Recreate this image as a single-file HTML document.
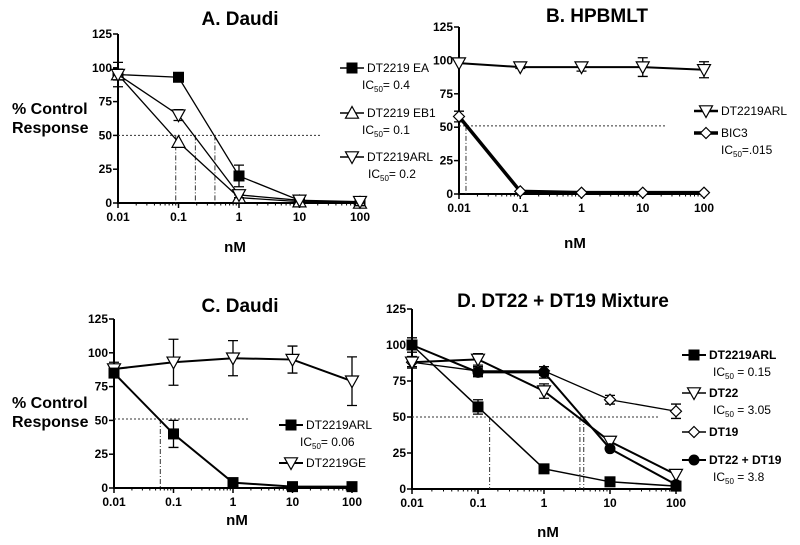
<!DOCTYPE html>
<html><head><meta charset="utf-8"><style>
body{margin:0;background:#fff;}
svg{display:block;font-family:"Liberation Sans",Arial,sans-serif;}
</style></head><body>
<svg id="fig" width="800" height="545" viewBox="0 0 800 545"></svg>
<script>
// ---- data ----
const doses = [0.01, 0.1, 1, 10, 100];
const xTickLabels = ["0.01", "0.1", "1", "10", "100"];
const yTicks = [0, 25, 50, 75, 100, 125];
// Panel A
const aEA = [95, 93, 20, 2, 0];
const aEAerr = [3, 0, 8, 1, 0];
const aEB1 = [95, 45, 4, 1, 0];
const aEB1err = [4, 0, 2, 0, 0];
const aARL = [95, 65, 6, 2, 1];
const aARLerr = [9, 4, 2, 1, 3];
const aIC = [0.4, 0.09, 0.19];
// Panel B
const bARL = [98, 95, 95, 95, 93];
const bARLerr = [0, 1, 3, 7, 6];
const bBIC3 = [58, 2, 1, 1, 1];
const bBIC3err = [4, 0, 0, 0, 0];
const bIC = [0.013];
// Panel C
const cARL = [85, 40, 4, 1, 1];
const cARLerr = [3, 10, 2, 0, 0];
const cGE = [88, 93, 96, 95, 79];
const cGEerr = [5, 17, 13, 10, 18];
const cIC = [0.06];
// Panel D
const dARL = [100, 57, 14, 5, 2];
const dARLerr = [3, 5, 0, 0, 0];
const dDT22 = [88, 90, 68, 33, 10];
const dDT22err = [3, 4, 5, 0, 0];
const dDT19 = [88, 82, 82, 62, 54];
const dDT19err = [4, 3, 3, 3, 5];
const dMix = [100, 81, 81, 28, 3];
const dMixerr = [5, 3, 4, 0, 0];
const dIC = [0.15, 3.5, 4.0];

const NS = "http://www.w3.org/2000/svg";
const svg = document.getElementById("fig");
function el(tag, attrs, parent, text) {
  const e = document.createElementNS(NS, tag);
  for (const k in attrs) e.setAttribute(k, attrs[k]);
  if (text !== undefined) e.textContent = text;
  (parent || svg).appendChild(e);
  return e;
}
function marker(g, shape, x, y) {
  const s = 6.5;
  let m;
  if (shape === "square") m = el("rect", {x: x - 5.5, y: y - 5.5, width: 11, height: 11, fill: "#000"}, g);
  else if (shape === "circle") m = el("circle", {cx: x, cy: y, r: 5.5, fill: "#000"}, g);
  else if (shape === "up") m = el("polygon", {points: `${x},${y - s} ${x - s},${y + s * 0.8} ${x + s},${y + s * 0.8}`, fill: "#fff", stroke: "#000", "stroke-width": 1.2}, g);
  else if (shape === "down") m = el("polygon", {points: `${x},${y + s} ${x - s},${y - s * 0.8} ${x + s},${y - s * 0.8}`, fill: "#fff", stroke: "#000", "stroke-width": 1.2}, g);
  else if (shape === "diamond") m = el("polygon", {points: `${x},${y - 5.5} ${x + 5.5},${y} ${x},${y + 5.5} ${x - 5.5},${y}`, fill: "#fff", stroke: "#000", "stroke-width": 1.2}, g);
  
  
}

function panel(cfg) {
  const g = el("g", {});
  
  
  const X = v => cfg.x0 + (Math.log10(v) + 2) * cfg.dec;
  const Y = v => cfg.y0 - v * cfg.ppu;
  const t = el("text", {x: cfg.tx, y: cfg.ty, "font-size": 19, "font-weight": "bold", "text-anchor": "middle"}, g, cfg.title);
  
  
  const xEnd = X(100);
  const ax = el("path", {d: `M${cfg.x0},${Y(125)}V${Y(0)}H${xEnd}`, stroke: "#000", "stroke-width": 2, fill: "none"}, g);
  
  
  yTicks.forEach(v => {
    el("line", {x1: cfg.x0 - 5, x2: cfg.x0, y1: Y(v), y2: Y(v), stroke: "#000", "stroke-width": 1.5}, g);
    const lb = el("text", {x: cfg.x0 - 6, y: Y(v) + 4, "font-size": 12, "font-weight": "bold", "text-anchor": "end"}, g, String(v));
    
    
  });
  for (let d = 0; d < 4; d++) {
    for (let k = 2; k <= 9; k++) {
      const xv = X(Math.pow(10, d - 2) * k);
      el("line", {x1: xv, x2: xv, y1: Y(0), y2: Y(0) + 2.5, stroke: "#000", "stroke-width": 1}, g);
    }
  }
  doses.forEach((d, i) => {
    el("line", {x1: X(d), x2: X(d), y1: Y(0), y2: Y(0) + 5, stroke: "#000", "stroke-width": 1.5}, g);
    const lb = el("text", {x: X(d), y: Y(0) + 18, "font-size": 12, "font-weight": "bold", "text-anchor": "middle"}, g, xTickLabels[i]);
    
    
  });
  const xl = el("text", {x: cfg.nmx, y: cfg.nmy, "font-size": 15, "font-weight": "bold", "text-anchor": "middle"}, g, "nM");
  
  
  if (cfg.ylab) {
    const yl = el("text", {x: 12, y: cfg.ylab, "font-size": 16, "font-weight": "bold"}, g);
    
    
    el("tspan", {x: 12, dy: 0}, yl, "% Control");
    el("tspan", {x: 12, dy: 19}, yl, "Response");
  }
  const h = el("line", {x1: cfg.x0, x2: cfg.hEnd, y1: Y(cfg.hY), y2: Y(cfg.hY), stroke: "#333", "stroke-width": 1, "stroke-dasharray": "2,2"}, g);
  
  
  cfg.ic.forEach(v => {
    const l = el("line", {x1: X(v), x2: X(v), y1: Y(cfg.hY), y2: Y(0), stroke: "#333", "stroke-width": 1, "stroke-dasharray": "5,2,1,2"}, g);
    
    
  });
  cfg.series.forEach(s => {
    const sg = el("g", {}, g);
    
    
    el("polyline", {points: s.vals.map((v, i) => X(doses[i]) + "," + Y(v)).join(" "), fill: "none", stroke: "#000", "stroke-width": s.w || 1.3}, sg);
    s.vals.forEach((v, i) => {
      const e = s.err[i];
      if (e > 0) {
        const x = X(doses[i]);
        el("path", {d: `M${x},${Y(v - e)}V${Y(v + e)}M${x - 5},${Y(v - e)}h10M${x - 5},${Y(v + e)}h10`, stroke: "#000", "stroke-width": 1.3, fill: "none"}, sg);
      }
    });
    s.vals.forEach((v, i) => marker(sg, s.shape, X(doses[i]), Y(v)));
  });
  cfg.legend.forEach(L => {
    const lg = el("g", {}, g);
    
    
    el("line", {x1: L.x, x2: L.x + 24, y1: L.y - 4, y2: L.y - 4, stroke: "#000", "stroke-width": L.w || 1.5}, lg);
    marker(lg, L.shape, L.x + 12, L.y - 4);
    el("text", {x: L.x + 27, y: L.y, "font-size": 12, "font-weight": L.bold ? "bold" : "normal"}, lg, L.label);
    if (L.ic) {
      const tt = el("text", {x: L.icx || L.x + 27, y: L.y + 17, "font-size": 12}, lg);
      el("tspan", {}, tt, "IC");
      el("tspan", {"font-size": 8, dy: 3}, tt, "50");
      el("tspan", {dy: -3}, tt, L.ic);
    }
  });
}

panel({name: "panel-a", title: "A. Daudi", tx: 240, ty: 25, x0: 118, y0: 203, ppu: 169 / 125, dec: 60.5,
  nmx: 235, nmy: 252, ylab: 114, hY: 50, hEnd: 320, ic: aIC,
  series: [
    {key: "ea", vals: aEA, err: aEAerr, shape: "square"},
    {key: "eb1", vals: aEB1, err: aEB1err, shape: "up"},
    {key: "arl", vals: aARL, err: aARLerr, shape: "down"}],
  legend: [
    {x: 340, y: 72, shape: "square", label: "DT2219 EA", ic: "= 0.4", icx: 362},
    {x: 340, y: 117, shape: "up", label: "DT2219 EB1", ic: "= 0.1", icx: 362},
    {x: 340, y: 161, shape: "down", label: "DT2219ARL", ic: "= 0.2", icx: 368}]});

panel({name: "panel-b", title: "B. HPBMLT", tx: 597, ty: 22, x0: 459, y0: 194, ppu: 167 / 125, dec: 61.25,
  nmx: 575, nmy: 248, hY: 51, hEnd: 667, ic: bIC,
  series: [
    {key: "arl", vals: bARL, err: bARLerr, shape: "down", w: 2},
    {key: "bic3", vals: bBIC3, err: bBIC3err, shape: "diamond", w: 3.5}],
  legend: [
    {x: 694, y: 115, shape: "down", label: "DT2219ARL", w: 2.5},
    {x: 694, y: 137, shape: "diamond", label: "BIC3", ic: "=.015", w: 3.5}]});

panel({name: "panel-c", title: "C. Daudi", tx: 240, ty: 312, x0: 114, y0: 488, ppu: 169 / 125, dec: 59.5,
  nmx: 237, nmy: 525, ylab: 408, hY: 51, hEnd: 250, ic: cIC,
  series: [
    {key: "ge", vals: cGE, err: cGEerr, shape: "down", w: 2},
    {key: "arl", vals: cARL, err: cARLerr, shape: "square", w: 2}],
  legend: [
    {x: 279, y: 429, shape: "square", label: "DT2219ARL", ic: "= 0.06", icx: 300, w: 2},
    {x: 279, y: 467, shape: "down", label: "DT2219GE", w: 2}]});

panel({name: "panel-d", title: "D. DT22 + DT19 Mixture", tx: 563, ty: 307, x0: 412, y0: 489, ppu: 180 / 125, dec: 66,
  nmx: 548, nmy: 537, hY: 50, hEnd: 660, ic: dIC,
  series: [
    {key: "dt19", vals: dDT19, err: dDT19err, shape: "diamond", w: 1.3},
    {key: "dt22", vals: dDT22, err: dDT22err, shape: "down", w: 2},
    {key: "mix", vals: dMix, err: dMixerr, shape: "circle", w: 2},
    {key: "arl", vals: dARL, err: dARLerr, shape: "square", w: 1.5}],
  legend: [
    {x: 682, y: 359, shape: "square", label: " DT2219ARL", bold: true, ic: " = 0.15", icx: 713, w: 2},
    {x: 682, y: 397, shape: "down", label: "DT22", bold: true, ic: " = 3.05", icx: 713},
    {x: 682, y: 436, shape: "diamond", label: "DT19", bold: true},
    {x: 682, y: 464, shape: "circle", label: "DT22 + DT19", bold: true, ic: " = 3.8", icx: 713, w: 2}]});
</script>
</body></html>
